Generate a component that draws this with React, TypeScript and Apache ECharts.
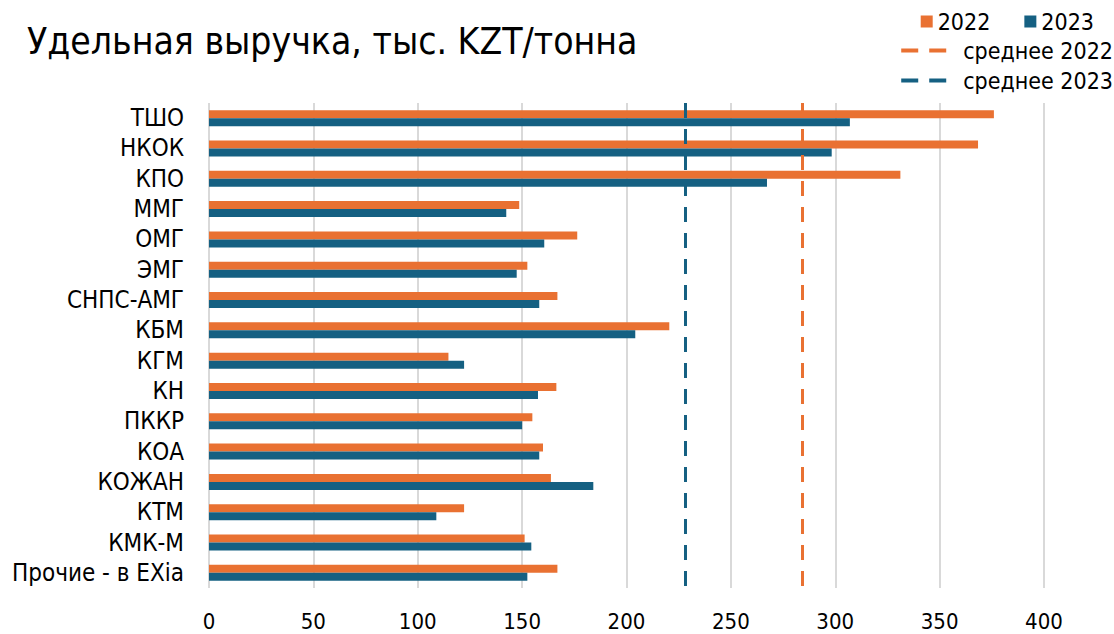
import React, { useEffect, useRef } from "react";
import * as echarts from "echarts";

const categories = [
  "ТШО", "НКОК", "КПО", "ММГ", "ОМГ", "ЭМГ", "СНПС-АМГ", "КБМ",
  "КГМ", "КН", "ПККР", "КОА", "КОЖАН", "КТМ", "КМК-М", "Прочие - в EXia",
];
const values2022 = [376, 368.4, 331.2, 148.6, 176.4, 152.5, 166.9, 220.5, 114.7, 166.4, 154.9, 160, 163.8, 122.2, 151.2, 166.9];
const values2023 = [307, 298.3, 267.3, 142.4, 160.6, 147.4, 158.2, 204.2, 122.2, 157.6, 150, 158.2, 184.1, 108.9, 154.4, 152.5];
const mean2022 = 284;
const mean2023 = 228;
const xTicks = { min: 0, max: 400, interval: 50 };

const ORANGE = "#E97132";
const BLUE = "#156082";
const FONT = "'DejaVu Sans Condensed', 'DejaVu Sans', sans-serif";
const DASH_ICON = "path://M0,0h17v4h-17z M28,0h17v4h-17z";

export default function App() {
  const ref = useRef<HTMLDivElement>(null);
  useEffect(() => {
    if (!ref.current) return;
    const chart = echarts.init(ref.current, null, { renderer: "svg" });
    chart.setOption({
      animation: false,
      backgroundColor: "#fff",
      textStyle: { fontFamily: FONT },
      title: {
        text: "Удельная выручка, тыс. KZT/тонна",
        left: 22,
        top: 18,
        textStyle: { fontFamily: FONT, fontSize: 37, fontWeight: "normal", color: "#000" },
      },
      legend: [
        {
          data: ["2022", "2023"],
          right: 15,
          top: 5,
          icon: "rect",
          itemWidth: 12,
          itemHeight: 12,
          itemGap: 34,
          textStyle: { fontFamily: FONT, fontSize: 23, color: "#000" },
        },
        {
          data: [
            { name: "среднее 2022", icon: DASH_ICON },
            { name: "среднее 2023", icon: DASH_ICON },
          ],
          orient: "vertical",
          right: 0,
          top: 34,
          padding: [5, 1, 5, 5],
          itemWidth: 45,
          itemHeight: 4,
          itemGap: 7,
          textStyle: { fontFamily: FONT, fontSize: 23, lineHeight: 22, color: "#000", padding: [0, 0, 0, 12] },
        },
      ],
      grid: { left: 209, right: 70, top: 103, bottom: 46, containLabel: false },
      xAxis: {
        type: "value",
        min: xTicks.min,
        max: xTicks.max,
        interval: xTicks.interval,
        axisLine: { show: false },
        axisTick: { show: false },
        axisLabel: { fontFamily: FONT, fontSize: 22, color: "#000", margin: 22 },
        splitLine: { lineStyle: { color: "#D9D9D9", width: 2 } },
      },
      yAxis: {
        type: "category",
        inverse: true,
        data: categories,
        axisLine: { show: false },
        axisTick: { show: false },
        axisLabel: { fontFamily: FONT, fontSize: 24, color: "#000", margin: 25, interval: 0 },
      },
      series: [
        {
          name: "2022",
          type: "bar",
          data: values2022,
          barWidth: 8,
          barGap: "0%",
          itemStyle: { color: ORANGE },
        },
        {
          name: "2023",
          type: "bar",
          data: values2023,
          barWidth: 8,
          barGap: "0%",
          itemStyle: { color: BLUE },
        },
        {
          name: "среднее 2022",
          type: "line",
          data: [],
          symbol: "none",
          itemStyle: { color: ORANGE },
          lineStyle: { color: ORANGE },
          markLine: {
            silent: true,
            symbol: ["none", "none"],
            label: { show: false },
            lineStyle: { color: ORANGE, width: 3, type: [15, 11] },
            data: [{ xAxis: mean2022 }],
          },
        },
        {
          name: "среднее 2023",
          type: "line",
          data: [],
          symbol: "none",
          itemStyle: { color: BLUE },
          lineStyle: { color: BLUE },
          markLine: {
            silent: true,
            symbol: ["none", "none"],
            label: { show: false },
            lineStyle: { color: BLUE, width: 3, type: [15, 11] },
            data: [{ xAxis: mean2023 }],
          },
        },
      ],
    });
    return () => chart.dispose();
  }, []);
  return (
    <div
      ref={ref}
      style={{ position: "absolute", left: 0, top: 0, width: 1114, height: 634 }}
    />
  );
}
